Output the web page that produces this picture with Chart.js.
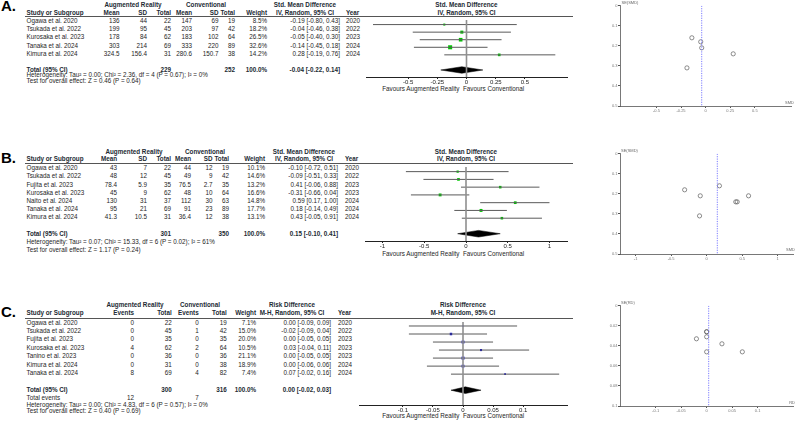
<!DOCTYPE html>
<html>
<head>
<meta charset="utf-8">
<script src="https://cdn.jsdelivr.net/npm/chart.js@4.4.1/dist/chart.umd.min.js"></script>
<style>
  html, body { margin: 0; padding: 0; background: #fff; }
  #stage { position: relative; width: 797px; height: 424px; overflow: hidden; font-family: "Liberation Sans", Arial, sans-serif; }
  .t { position: absolute; font-size: 6.3px; line-height: 10px; height: 10px; white-space: nowrap; color: #1e1e1e; }
  .b { font-weight: bold; color: #222a33; }
  .letter { font-size: 15px; font-weight: bold; line-height: 16px; height: 16px; color: #000; }
  .tiny { font-size: 4px; color: #666; }
  .rule { position: absolute; height: 0; border-top: 1px solid #555; }
  .box { position: absolute; }
</style>
</head>
<body>
<div id="stage"></div>
<script>
// ---- A: continuous outcome, SMD ----
const studiesA = ["Ogawa et al. 2020", "Tsukada et al. 2022", "Kurosaka et al. 2023", "Tanaka et al. 2024", "Kimura et al. 2024"];
const arMeanA = [136, 199, 178, 303, 324.5];
const arSdA = [44, 95, 84, 214, 156.4];
const arTotalA = [22, 45, 62, 69, 31];
const convMeanA = [147, 203, 183, 333, 280.6];
const convSdA = [69, 97, 102, 220, 150.7];
const convTotalA = [19, 42, 64, 89, 38];
const weightA = [8.5, 18.2, 26.5, 32.6, 14.2];
const smdA = [-0.19, -0.04, -0.05, -0.14, 0.28];
const lowA = [-0.80, -0.46, -0.40, -0.45, -0.19];
const highA = [0.43, 0.38, 0.30, 0.18, 0.76];
const yearA = [2020, 2022, 2023, 2024, 2024];
const seA = [0.31, 0.21, 0.18, 0.16, 0.24];
const pooledA = [-0.04, -0.22, 0.14];
const totalsA = [229, 252];
const forestTicksA = [-0.5, -0.25, 0, 0.25, 0.5];
const funnelXTicksA = [-0.5, -0.25, 0, 0.25, 0.5];
const funnelYTicksA = [0, 0.1, 0.2, 0.3, 0.4, 0.5];
const hetA = "Heterogeneity: Tau\u00b2 = 0.00; Chi\u00b2 = 2.36, df = 4 (P = 0.67); I\u00b2 = 0%";
const testA = "Test for overall effect: Z = 0.46 (P = 0.64)";

// ---- B: continuous outcome, SMD ----
const studiesB = ["Ogawa et al. 2020", "Tsukada et al. 2022", "Fujita et al. 2023", "Kurosaka et al. 2023", "Naito et al. 2024", "Tanaka et al. 2024", "Kimura et al. 2024"];
const arMeanB = [43, 48, 78.4, 45, 130, 95, 41.3];
const arSdB = [7, 12, 5.9, 9, 31, 21, 10.5];
const arTotalB = [22, 45, 35, 62, 37, 69, 31];
const convMeanB = [44, 49, 76.5, 48, 112, 91, 36.4];
const convSdB = [12, 9, 2.7, 10, 30, 23, 12];
const convTotalB = [19, 42, 35, 64, 63, 89, 38];
const weightB = [10.1, 14.6, 13.2, 16.6, 14.8, 17.7, 13.1];
const smdB = [-0.10, -0.09, 0.41, -0.31, 0.59, 0.18, 0.43];
const lowB = [-0.72, -0.51, -0.06, -0.66, 0.17, -0.14, -0.05];
const highB = [0.51, 0.33, 0.88, 0.04, 1.00, 0.49, 0.91];
const yearB = [2020, 2022, 2023, 2023, 2024, 2024, 2024];
const seB = [0.31, 0.21, 0.24, 0.18, 0.21, 0.16, 0.24];
const pooledB = [0.15, -0.10, 0.41];
const totalsB = [301, 350];
const forestTicksB = [-1, -0.5, 0, 0.5, 1];
const funnelXTicksB = [-1, -0.5, 0, 0.5, 1];
const funnelYTicksB = [0, 0.1, 0.2, 0.3, 0.4, 0.5];
const hetB = "Heterogeneity: Tau\u00b2 = 0.07; Chi\u00b2 = 15.33, df = 6 (P = 0.02); I\u00b2 = 61%";
const testB = "Test for overall effect: Z = 1.17 (P = 0.24)";

// ---- C: dichotomous outcome, risk difference ----
const studiesC = ["Ogawa et al. 2020", "Tsukada et al. 2022", "Fujita et al. 2023", "Kurosaka et al. 2023", "Tanino et al. 2023", "Kimura et al. 2024", "Tanaka et al. 2024"];
const arEventsC = [0, 0, 0, 4, 0, 0, 8];
const arTotalC = [22, 45, 35, 62, 36, 31, 69];
const convEventsC = [0, 1, 0, 2, 0, 0, 4];
const convTotalC = [19, 42, 35, 64, 36, 38, 82];
const weightC = [7.1, 15.0, 20.0, 10.5, 21.1, 18.9, 7.4];
const rdC = [0.00, -0.02, 0.00, 0.03, 0.00, 0.00, 0.07];
const lowC = [-0.09, -0.09, -0.05, -0.04, -0.05, -0.06, -0.02];
const highC = [0.09, 0.04, 0.05, 0.11, 0.05, 0.06, 0.16];
const yearC = [2020, 2022, 2023, 2023, 2023, 2024, 2024];
const seC = [0.046, 0.033, 0.026, 0.038, 0.026, 0.031, 0.046];
const pooledC = [0.004, -0.02, 0.03];
const totalsC = [300, 316];
const eventsC = [12, 7];
const forestTicksC = [-0.1, -0.05, 0, 0.05, 0.1];
const funnelXTicksC = [-0.1, -0.05, 0, 0.05, 0.1];
const funnelYTicksC = [0, 0.02, 0.04, 0.06, 0.08, 0.1];
const hetC = "Heterogeneity: Tau\u00b2 = 0.00; Chi\u00b2 = 4.83, df = 6 (P = 0.57); I\u00b2 = 0%";
const testC = "Test for overall effect: Z = 0.40 (P = 0.69)";

// ---- layout (pixel positions) ----
const layoutA = {
  letterY: 6, hdr1: 4.7, hdr2: 13.2, line: 16.3, top: 21.2, step: 8.1, het: 75, test: 81, fav: 89.3,
  cols: [119.5, 147, 171, 192, 218.5, 235, 267], ci: 340, year: 346, grpAR: 133, grpConv: 206, effHead: 305,
  forest: { left: 366, right: 567, top: 16.3, axis: 77.3, min: -0.86, max: 0.86 },
  funnel: { left: 620, right: 794, top: 5, bottom: 106, xmin: -0.87, xmax: 0.87, ymax: 0.5 }
};
const layoutB = {
  letterY: 158, hdr1: 151.7, hdr2: 159.4, line: 163.3, top: 168.2, step: 8.2, het: 241.7, test: 249.8, fav: 253.5,
  cols: [117, 147, 171, 191, 212.5, 229, 265], ci: 338, year: 345, grpAR: 134, grpConv: 205, effHead: 304,
  forest: { left: 365, right: 567, top: 163.3, axis: 241.5, min: -1.21, max: 1.21 },
  funnel: { left: 619.5, right: 795, top: 152.7, bottom: 253.3, xmin: -1.22, xmax: 1.22, ymax: 0.5 }
};
const layoutC = {
  letterY: 311.7, hdr1: 305, hdr2: 313.3, line: 318.3, top: 322.5, step: 8.45, events: 398, het: 404.5, test: 411, fav: 416,
  cols: [134, 171.7, 198.7, 226.7, 256], ci: 331, year: 338, grpAR: 135, grpConv: 200, effHead: 292,
  forest: { left: 359, right: 567, top: 318.3, axis: 405.7, min: -0.173, max: 0.173 },
  funnel: { left: 619.5, right: 795, top: 305, bottom: 406, xmin: -0.17, xmax: 0.17, ymax: 0.1 }
};

const stage = document.getElementById("stage");
Chart.defaults.font.family = '"Liberation Sans", Arial, sans-serif';

function put(text, x, y, align = "left", cls = "") {
  const el = document.createElement("div");
  el.className = "t " + cls;
  el.textContent = text;
  if (align === "right") {
    el.style.left = (x - 200) + "px"; el.style.width = "200px"; el.style.textAlign = "right";
  } else if (align === "center") {
    el.style.left = (x - 100) + "px"; el.style.width = "200px"; el.style.textAlign = "center";
  } else {
    el.style.left = x + "px";
  }
  el.style.top = (y - (cls.includes("letter") ? 8 : 5)) + "px";
  stage.appendChild(el);
  return el;
}

function rule(y) {
  const el = document.createElement("div");
  el.className = "rule";
  el.style.left = "25px"; el.style.width = "548px"; el.style.top = y + "px";
  stage.appendChild(el);
}

function addCanvas(x, y, w, h) {
  const box = document.createElement("div");
  box.className = "box";
  Object.assign(box.style, { left: x + "px", top: y + "px", width: Math.round(w) + "px", height: Math.round(h) + "px" });
  const canvas = document.createElement("canvas");
  box.appendChild(canvas);
  stage.appendChild(box);
  return canvas;
}

const f2 = (v) => v.toFixed(2);
const ciText = (e, l, h) => `${f2(e)} [${f2(l)}, ${f2(h)}]`;
const zeroOf = (F) => F.left + (0 - F.min) / (F.max - F.min) * (F.right - F.left);

function favours(L) {
  put("Favours Augmented Reality", 459.5, L.fav, "right");
  put("Favours Conventional", 463, L.fav, "left");
}

function forestChart(L, est, low, high, weight, pooled, xTicks, color, k) {
  const F = L.forest, pad = 8, axisH = 13;
  const yMin = (F.top - L.top) / L.step;
  const yMax = (F.axis - L.top) / L.step;
  const totalRow = est.length + 1;
  const half = 3.5 / L.step;
  const canvas = addCanvas(F.left - pad, F.top, F.right - F.left + 2 * pad, F.axis - F.top + axisH);
  const datasets = [
    { type: "line", data: [{ x: 0, y: yMin }, { x: 0, y: yMax }], borderColor: "#8f8f8f", borderWidth: 1.6, pointRadius: 0 },
    ...est.map((e, i) => ({
      type: "line", data: [{ x: low[i], y: i }, { x: high[i], y: i }],
      borderColor: "#5a5a5a", borderWidth: 1, pointRadius: 0
    })),
    {
      type: "scatter", data: est.map((e, i) => ({ x: e, y: i })), pointStyle: "rect",
      pointRadius: weight.map((w) => k * Math.sqrt(w)), backgroundColor: color, borderColor: color, borderWidth: 0
    },
    {
      type: "line",
      data: [
        { x: pooled[1], y: totalRow }, { x: pooled[0], y: totalRow - half },
        { x: pooled[2], y: totalRow }, { x: pooled[0], y: totalRow + half }, { x: pooled[1], y: totalRow }
      ],
      borderColor: "#000", backgroundColor: "#000", borderWidth: 0.5, pointRadius: 0, fill: "shape"
    }
  ];
  new Chart(canvas, {
    type: "scatter",
    data: { datasets },
    options: {
      responsive: true, maintainAspectRatio: false, animation: false,
      layout: { padding: { left: pad, right: pad, top: 0, bottom: 0 } },
      plugins: { legend: { display: false }, tooltip: { enabled: false } },
      scales: {
        x: {
          type: "linear", min: F.min, max: F.max,
          afterBuildTicks: (s) => { s.ticks = xTicks.map((v) => ({ value: v })); },
          afterFit: (s) => { s.height = axisH; },
          ticks: { color: "#222", font: { size: 6 }, padding: 0, callback: (v) => String(v) },
          grid: { drawOnChartArea: false, tickLength: 2, color: "#222" },
          border: { color: "#222", width: 1 }
        },
        y: { type: "linear", display: false, reverse: true, min: yMin, max: yMax }
      }
    }
  });
}

function funnelChart(L, est, se, pooledEst, xTicks, yTicks, xName, yName) {
  const P = L.funnel, yW = 12, xH = 8, padTop = 4, padRight = 2;
  const left = P.left - yW, top = P.top - padTop;
  const canvas = addCanvas(left, top, P.right - left + padRight, P.bottom - top + xH);
  const tickFont = { size: 4 };
  new Chart(canvas, {
    type: "scatter",
    data: {
      datasets: [
        {
          type: "line", data: [{ x: pooledEst, y: 0 }, { x: pooledEst, y: P.ymax }],
          borderColor: "#7b7bff", borderWidth: 1, borderDash: [1.2, 1.2], pointRadius: 0
        },
        {
          type: "scatter", data: est.map((e, i) => ({ x: e, y: se[i] })), pointStyle: "circle",
          pointRadius: 2.1, borderWidth: 0.7, borderColor: "#5c5c5c", backgroundColor: "rgba(255,255,255,0)"
        }
      ]
    },
    options: {
      responsive: true, maintainAspectRatio: false, animation: false,
      layout: { padding: { left: 0, right: padRight, top: padTop, bottom: 0 } },
      plugins: { legend: { display: false }, tooltip: { enabled: false } },
      scales: {
        x: {
          type: "linear", min: P.xmin, max: P.xmax,
          afterBuildTicks: (s) => { s.ticks = xTicks.map((v) => ({ value: v })); },
          afterFit: (s) => { s.height = xH; },
          ticks: { color: "#777", font: tickFont, padding: 0.5, callback: (v) => String(v) },
          grid: { drawOnChartArea: false, tickLength: 2, color: "#555" },
          border: { color: "#555", width: 0.8 }
        },
        y: {
          type: "linear", min: 0, max: P.ymax, reverse: true,
          afterBuildTicks: (s) => { s.ticks = yTicks.map((v) => ({ value: v })); },
          afterFit: (s) => { s.width = yW; },
          ticks: { color: "#777", font: tickFont, padding: 0.5, callback: (v) => String(v) },
          grid: { drawOnChartArea: false, tickLength: 2, color: "#555" },
          border: { color: "#555", width: 0.8 }
        }
      }
    }
  });
  put(yName, P.left + 1.5, P.top - 2, "left", "tiny");
  put(xName, P.right, P.bottom - 3.5, "right", "tiny");
}

function continuousPanel(letter, L, d) {
  const zero = zeroOf(L.forest);
  put(letter, 1, L.letterY, "left", "letter");
  put("Augmented Reality", L.grpAR, L.hdr1, "center", "b");
  put("Conventional", L.grpConv, L.hdr1, "center", "b");
  put("Std. Mean Difference", L.effHead, L.hdr1, "center", "b");
  put("Std. Mean Difference", zero, L.hdr1, "center", "b");
  put("Study or Subgroup", 26.5, L.hdr2, "left", "b");
  ["Mean", "SD", "Total", "Mean", "SD", "Total", "Weight"].forEach((h, k) => put(h, L.cols[k], L.hdr2, "right", "b"));
  put("IV, Random, 95% CI", L.effHead, L.hdr2, "center", "b");
  put("Year", L.year, L.hdr2, "left", "b");
  put("IV, Random, 95% CI", zero, L.hdr2, "center", "b");
  rule(L.line);
  d.studies.forEach((s, i) => {
    const y = L.top + i * L.step;
    put(s, 26.5, y);
    [d.arMean[i], d.arSd[i], d.arTotal[i], d.convMean[i], d.convSd[i], d.convTotal[i]]
      .forEach((v, k) => put(String(v), L.cols[k], y, "right"));
    put(d.weight[i].toFixed(1) + "%", L.cols[6], y, "right");
    put(ciText(d.est[i], d.low[i], d.high[i]), L.ci, y, "right");
    put(String(d.year[i]), L.year, y);
  });
  const yt = L.top + (d.studies.length + 1) * L.step;
  put("Total (95% CI)", 26.5, yt, "left", "b");
  put(String(d.totals[0]), L.cols[2], yt, "right", "b");
  put(String(d.totals[1]), L.cols[5], yt, "right", "b");
  put("100.0%", L.cols[6], yt, "right", "b");
  put(ciText(d.pooled[0], d.pooled[1], d.pooled[2]), L.ci, yt, "right", "b");
  put(d.het, 26.5, L.het);
  put(d.test, 26.5, L.test);
  favours(L);
}

function binaryPanel(letter, L, d) {
  const zero = zeroOf(L.forest);
  put(letter, 1, L.letterY, "left", "letter");
  put("Augmented Reality", L.grpAR, L.hdr1, "center", "b");
  put("Conventional", L.grpConv, L.hdr1, "center", "b");
  put("Risk Difference", L.effHead, L.hdr1, "center", "b");
  put("Risk Difference", zero, L.hdr1, "center", "b");
  put("Study or Subgroup", 26.5, L.hdr2, "left", "b");
  ["Events", "Total", "Events", "Total", "Weight"].forEach((h, k) => put(h, L.cols[k], L.hdr2, "right", "b"));
  put("M-H, Random, 95% CI", L.effHead, L.hdr2, "center", "b");
  put("Year", L.year, L.hdr2, "left", "b");
  put("M-H, Random, 95% CI", zero, L.hdr2, "center", "b");
  rule(L.line);
  d.studies.forEach((s, i) => {
    const y = L.top + i * L.step;
    put(s, 26.5, y);
    [d.arEvents[i], d.arTotal[i], d.convEvents[i], d.convTotal[i]]
      .forEach((v, k) => put(String(v), L.cols[k], y, "right"));
    put(d.weight[i].toFixed(1) + "%", L.cols[4], y, "right");
    put(ciText(d.est[i], d.low[i], d.high[i]), L.ci, y, "right");
    put(String(d.year[i]), L.year, y);
  });
  const yt = L.top + (d.studies.length + 1) * L.step;
  put("Total (95% CI)", 26.5, yt, "left", "b");
  put(String(d.totals[0]), L.cols[1], yt, "right", "b");
  put(String(d.totals[1]), L.cols[3], yt, "right", "b");
  put("100.0%", L.cols[4], yt, "right", "b");
  put(ciText(d.pooled[0], d.pooled[1], d.pooled[2]), L.ci, yt, "right", "b");
  put("Total events", 26.5, L.events);
  put(String(d.events[0]), L.cols[0], L.events, "right");
  put(String(d.events[1]), L.cols[2], L.events, "right");
  put(d.het, 26.5, L.het);
  put(d.test, 26.5, L.test);
  favours(L);
}

continuousPanel("A.", layoutA, {
  studies: studiesA, arMean: arMeanA, arSd: arSdA, arTotal: arTotalA,
  convMean: convMeanA, convSd: convSdA, convTotal: convTotalA, weight: weightA,
  est: smdA, low: lowA, high: highA, year: yearA, pooled: pooledA, totals: totalsA, het: hetA, test: testA
});
continuousPanel("B.", layoutB, {
  studies: studiesB, arMean: arMeanB, arSd: arSdB, arTotal: arTotalB,
  convMean: convMeanB, convSd: convSdB, convTotal: convTotalB, weight: weightB,
  est: smdB, low: lowB, high: highB, year: yearB, pooled: pooledB, totals: totalsB, het: hetB, test: testB
});
binaryPanel("C.", layoutC, {
  studies: studiesC, arEvents: arEventsC, arTotal: arTotalC, convEvents: convEventsC, convTotal: convTotalC,
  weight: weightC, est: rdC, low: lowC, high: highC, year: yearC, pooled: pooledC,
  totals: totalsC, events: eventsC, het: hetC, test: testC
});

forestChart(layoutA, smdA, lowA, highA, weightA, pooledA, forestTicksA, "#00c800", 0.5);
forestChart(layoutB, smdB, lowB, highB, weightB, pooledB, forestTicksB, "#00c800", 0.5);
forestChart(layoutC, rdC, lowC, highC, weightC, pooledC, forestTicksC, "#0000d0", 0.45);

funnelChart(layoutA, smdA, seA, pooledA[0], funnelXTicksA, funnelYTicksA, "SMD", "SE(SMD)");
funnelChart(layoutB, smdB, seB, pooledB[0], funnelXTicksB, funnelYTicksB, "SMD", "SE(SMD)");
funnelChart(layoutC, rdC, seC, pooledC[0], funnelXTicksC, funnelYTicksC, "RD", "SE(RD)");
</script>
</body>
</html>
